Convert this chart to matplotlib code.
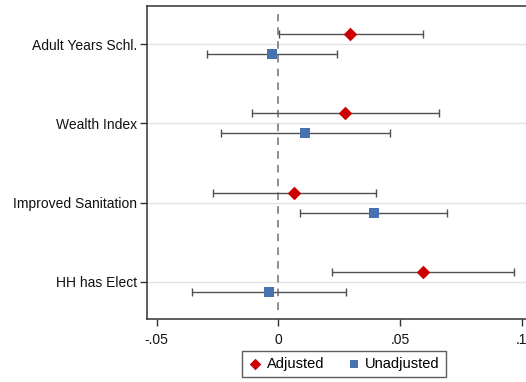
import matplotlib
matplotlib.use("Agg")
import matplotlib.pyplot as plt
import numpy as np

plt.rcParams['font.family'] = ['Liberation Sans', 'DejaVu Sans']

categories = ["Adult Years Schl.", "Wealth Index", "Improved Sanitation", "HH has Elect"]
adj_est = [0.0295, 0.0273, 0.0065, 0.0594]
adj_lo = [0.0002, -0.0110, -0.0267, 0.0219]
adj_hi = [0.0592, 0.0658, 0.0402, 0.0967]
unadj_est = [-0.0025, 0.0109, 0.0391, -0.0037]
unadj_lo = [-0.0293, -0.0237, 0.0088, -0.0354]
unadj_hi = [0.0241, 0.0457, 0.0691, 0.0278]
xticks = [-0.05, 0, 0.05, 0.1]
xticklabels = ["-.05", "0", ".05", ".1"]

fig = plt.figure(figsize=(5.26, 3.82), dpi=100)
ax = fig.add_axes([147/526, 1 - 319/382, 381/526, 313/382])

ypos = np.arange(1, len(categories) + 1)
off = 0.126
ecol = '#505050'

ax.axvline(0, ymin=0.03, ymax=0.975, color='#707070', ls=(0, (5, 4)), lw=1.1, zorder=1)
for y in ypos:
    ax.axhline(y, color='#e3e3e3', lw=1.0, zorder=0)

a_est = np.array(adj_est); u_est = np.array(unadj_est)
ax.errorbar(a_est, ypos - off,
            xerr=[a_est - np.array(adj_lo), np.array(adj_hi) - a_est],
            fmt='none', ecolor=ecol, elinewidth=1.0, capsize=3, capthick=1.0, zorder=2)
ax.errorbar(u_est, ypos + off,
            xerr=[u_est - np.array(unadj_lo), np.array(unadj_hi) - u_est],
            fmt='none', ecolor=ecol, elinewidth=1.0, capsize=3, capthick=1.0, zorder=2)
h1 = ax.scatter(a_est, ypos - off, marker='D', s=48, color='#cc0000', zorder=3, linewidths=0)
h2 = ax.scatter(u_est, ypos + off, marker='s', s=48, color='#4672b0', zorder=3, linewidths=0)

ax.set_ylim(4.47, 0.52)
ax.set_xlim(-0.054, 0.1025)
ax.set_yticks(ypos)
ax.set_yticklabels(categories, fontsize=10)
ax.set_xticks(xticks)
ax.set_xticklabels(xticklabels, fontsize=10)
ax.tick_params(axis='both', direction='out', length=5, width=1, color='#333333', colors='#111111')
ax.tick_params(axis='x', pad=5)
ax.tick_params(axis='y', pad=2)
for s in ['left', 'top', 'bottom']:
    ax.spines[s].set_color('#333333')
    ax.spines[s].set_linewidth(1.1)
ax.spines['right'].set_visible(False)

leg = fig.legend([h1, h2], ["Adjusted", "Unadjusted"], loc='center',
                 bbox_to_anchor=(344/526, 1 - 364/382), ncol=2, fontsize=10.5,
                 frameon=True, fancybox=False, edgecolor='#333333', markerscale=0.85,
                 handletextpad=0.3, columnspacing=1.5, borderpad=0.4, handlelength=1.0)
leg.get_frame().set_linewidth(1.0)

fig.savefig("out.png", dpi=100)
